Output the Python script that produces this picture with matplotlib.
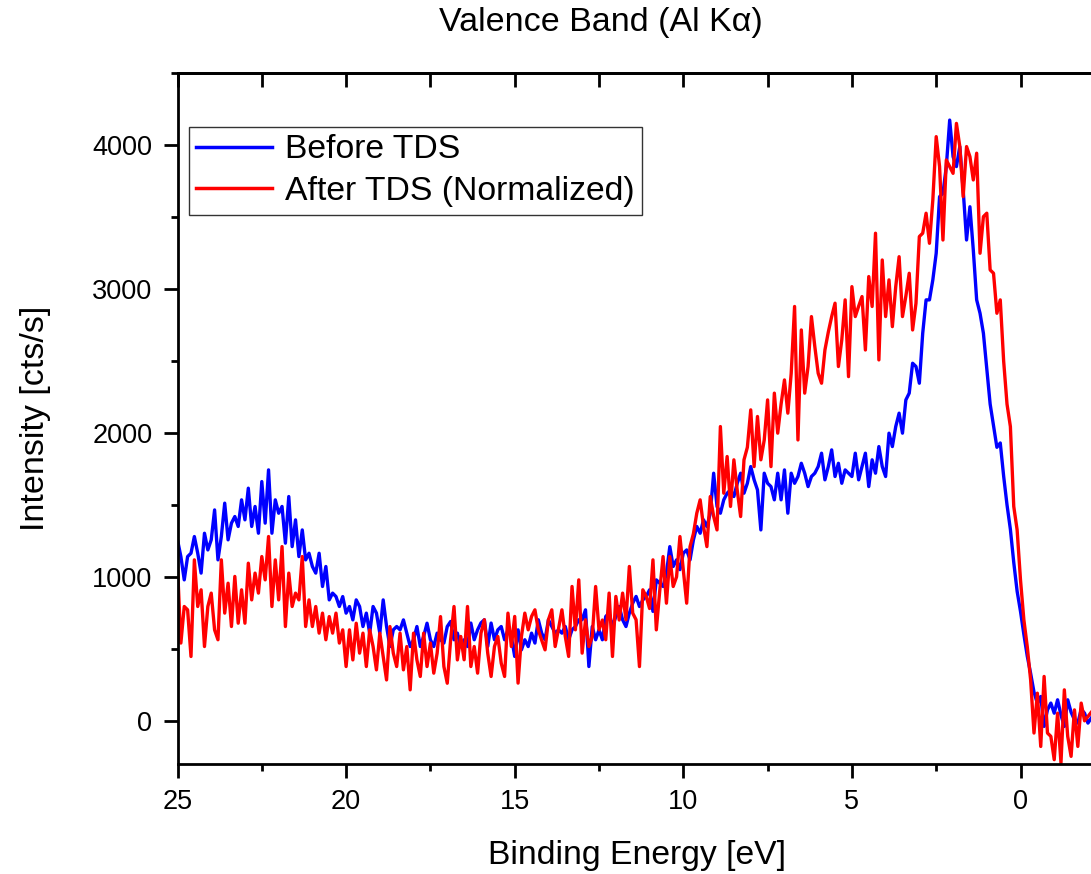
import numpy as np
import matplotlib
matplotlib.use("Agg")
import matplotlib.pyplot as plt
from matplotlib.ticker import MultipleLocator

plt.rcParams['font.family'] = ['Liberation Sans', 'DejaVu Sans']

# Binding energy grid (eV), 25.0 down to -2.1 in 0.1 eV steps
energy_start = 25.0
energy_stop = -2.1

before_tds = [
    1257, 1141, 979, 1141, 1164, 1280, 1164, 1026, 1303, 1187,
    1257, 1465, 1118, 1280, 1512, 1257, 1373, 1419, 1350, 1535,
    1396, 1616, 1350, 1489, 1303, 1662, 1373, 1743, 1303, 1535,
    1442, 1489, 1234, 1558, 1210, 1396, 1141, 1326, 1118, 1164,
    1072, 1026, 1164, 933, 1072, 840, 887, 863, 794, 863,
    748, 794, 701, 840, 794, 655, 748, 609, 794, 748,
    609, 840, 655, 516, 632, 655, 632, 701, 609, 516,
    563, 655, 516, 586, 678, 563, 516, 609, 563, 540,
    655, 690, 563, 609, 516, 563, 516, 679, 563, 632,
    680, 702, 516, 679, 563, 632, 655, 563, 632, 586,
    447, 632, 493, 563, 516, 609, 540, 702, 609, 563,
    702, 655, 609, 632, 609, 655, 563, 632, 655, 702,
    702, 771, 377, 655, 563, 632, 563, 725, 748, 655,
    725, 794, 702, 655, 748, 817, 864, 794, 840, 864,
    910, 760, 979, 956, 933, 1025, 1210, 1072, 1118, 1050,
    1164, 1187, 1118, 1257, 1350, 1303, 1396, 1349, 1442, 1720,
    1489, 1442, 1535, 1581, 1604, 1558, 1650, 1720, 1581, 1650,
    1766, 1674, 1604, 1326, 1720, 1650, 1627, 1535, 1720, 1535,
    1743, 1442, 1720, 1650, 1697, 1789, 1720, 1627, 1697, 1720,
    1766, 1859, 1674, 1766, 1882, 1697, 1789, 1650, 1743, 1720,
    1697, 1859, 1674, 1766, 1859, 1627, 1813, 1720, 1905, 1766,
    1697, 1998, 1905, 2044, 2137, 1998, 2229, 2276, 2484, 2461,
    2345, 2692, 2924, 2924, 3063, 3248, 3641, 3664, 3850, 4173,
    3919, 3850, 3989, 3687, 3340, 3571, 3271, 2924, 2831, 2692,
    2450, 2200, 2050, 1900, 1930, 1700, 1500, 1330, 1100, 900,
    760, 600, 450, 330, 200, 120, 169, -39, 76, 123,
    53, 146, 40, -39, 146, 60, 7, -16, 80, 53,
    -16, 20,
]

after_tds_normalized = [
    1072, 540, 794, 771, 447, 1118, 794, 910, 516, 794,
    887, 632, 563, 1118, 748, 956, 655, 1003, 678, 910,
    678, 1095, 840, 1026, 887, 1141, 979, 1280, 794, 1118,
    840, 1210, 655, 1026, 794, 887, 840, 1141, 655, 840,
    655, 794, 609, 748, 563, 724, 609, 748, 540, 632,
    377, 632, 423, 678, 470, 609, 377, 632, 516, 354,
    609, 447, 284, 655, 470, 377, 609, 354, 516, 215,
    609, 423, 308, 609, 377, 540, 331, 470, 724, 377,
    261, 563, 794, 423, 586, 424, 794, 377, 516, 331,
    609, 702, 470, 308, 516, 586, 401, 308, 748, 516,
    725, 262, 586, 748, 632, 725, 771, 632, 560, 493,
    702, 771, 516, 640, 771, 586, 447, 933, 632, 979,
    470, 702, 516, 586, 933, 632, 700, 563, 887, 447,
    864, 700, 887, 702, 1072, 748, 702, 377, 910, 864,
    780, 1118, 632, 900, 1141, 817, 1141, 933, 1000, 1280,
    1050, 817, 1210, 1300, 1442, 1535, 1350, 1210, 1558, 1420,
    1326, 2044, 1581, 1836, 1489, 1813, 1600, 1419, 1813, 1900,
    2160, 1766, 2114, 1813, 1950, 2229, 1766, 2276, 1998, 2200,
    2368, 2137, 2414, 2878, 1951, 2715, 2276, 2461, 2808, 2600,
    2414, 2345, 2576, 2700, 2808, 2901, 2461, 2646, 2924, 2391,
    3016, 2808, 2880, 2947, 2576, 3086, 2878, 3387, 2507, 3201,
    2808, 3063, 2738, 3016, 3224, 2808, 2950, 3109, 2715, 2900,
    3364, 3387, 3526, 3317, 3618, 4058, 3850, 3340, 3896, 3850,
    3803, 4150, 3989, 3641, 3989, 3919, 3757, 3943, 3248, 3502,
    3526, 3132, 3109, 2831, 2924, 2500, 2200, 2044, 1489, 1326,
    979, 701, 516, 285, -85, 192, -178, 308, -85, -108,
    -270, 53, -293, 215, -108, -247, 76, -178, 123, 0,
    30, 60,
]

series_labels = ["Before TDS", "After TDS (Normalized)"]
title_text = "Valence Band (Al K\u03b1)"
x_label = "Binding Energy [eV]"
y_label = "Intensity [cts/s]"
x_ticks = [25, 20, 15, 10, 5, 0]
y_ticks = [0, 1000, 2000, 3000, 4000]

energy = np.linspace(energy_start, energy_stop, len(before_tds))

W, H = 1091, 874
fig = plt.figure(figsize=(W / 100, H / 100), dpi=100)
ax_left, ax_right, ax_top, ax_bottom = 177.5, 1097, 73, 764
ax = fig.add_axes([ax_left / W, 1 - ax_bottom / H, (ax_right - ax_left) / W, (ax_bottom - ax_top) / H])

ax.plot(energy, before_tds, color=(0, 0, 1), lw=2.4, label=series_labels[0])
ax.plot(energy, after_tds_normalized, color=(1, 0, 0), lw=2.4, label=series_labels[1])

x_per_px = 25 / (1020.5 - 177.5)
ax.set_xlim(25, 0 - (ax_right - 1020.5) * x_per_px)
ax.set_ylim(-300, 4500)

ax.set_xticks(x_ticks)
ax.xaxis.set_minor_locator(MultipleLocator(2.5))
ax.set_yticks(y_ticks)
ax.yaxis.set_minor_locator(MultipleLocator(500))

for s in ['left', 'bottom', 'top']:
    ax.spines[s].set_linewidth(2.0)
ax.spines['right'].set_visible(False)

ax.tick_params(axis='both', which='major', direction='out', length=10, width=2.0,
               labelsize=19.5, pad=8)
ax.tick_params(axis='both', which='minor', direction='out', length=5, width=2.0)

secx = ax.secondary_xaxis('top')
secx.set_xticks(np.arange(25, -2.5, -2.5))
secx.tick_params(direction='in', length=10, width=2.0, labeltop=False)
secx.spines['top'].set_linewidth(2.0)

ax.set_xlabel(x_label, fontsize=24.3, labelpad=18)
ax.set_ylabel(y_label, fontsize=24.5, labelpad=30)
fig.text(601 / W, 1 - 23 / H, title_text, fontsize=24.5, ha='center', va='center')

leg = ax.legend(loc='upper left', bbox_to_anchor=(0.012, 0.922), borderaxespad=0,
                fontsize=24.3, frameon=True, fancybox=False, edgecolor='black',
                handlelength=2.25, handletextpad=0.38, borderpad=0.22,
                labelspacing=0.32)
leg.get_frame().set_linewidth(1.0)
for line in leg.get_lines():
    line.set_linewidth(2.5)

fig.savefig("out.png", dpi=100)
